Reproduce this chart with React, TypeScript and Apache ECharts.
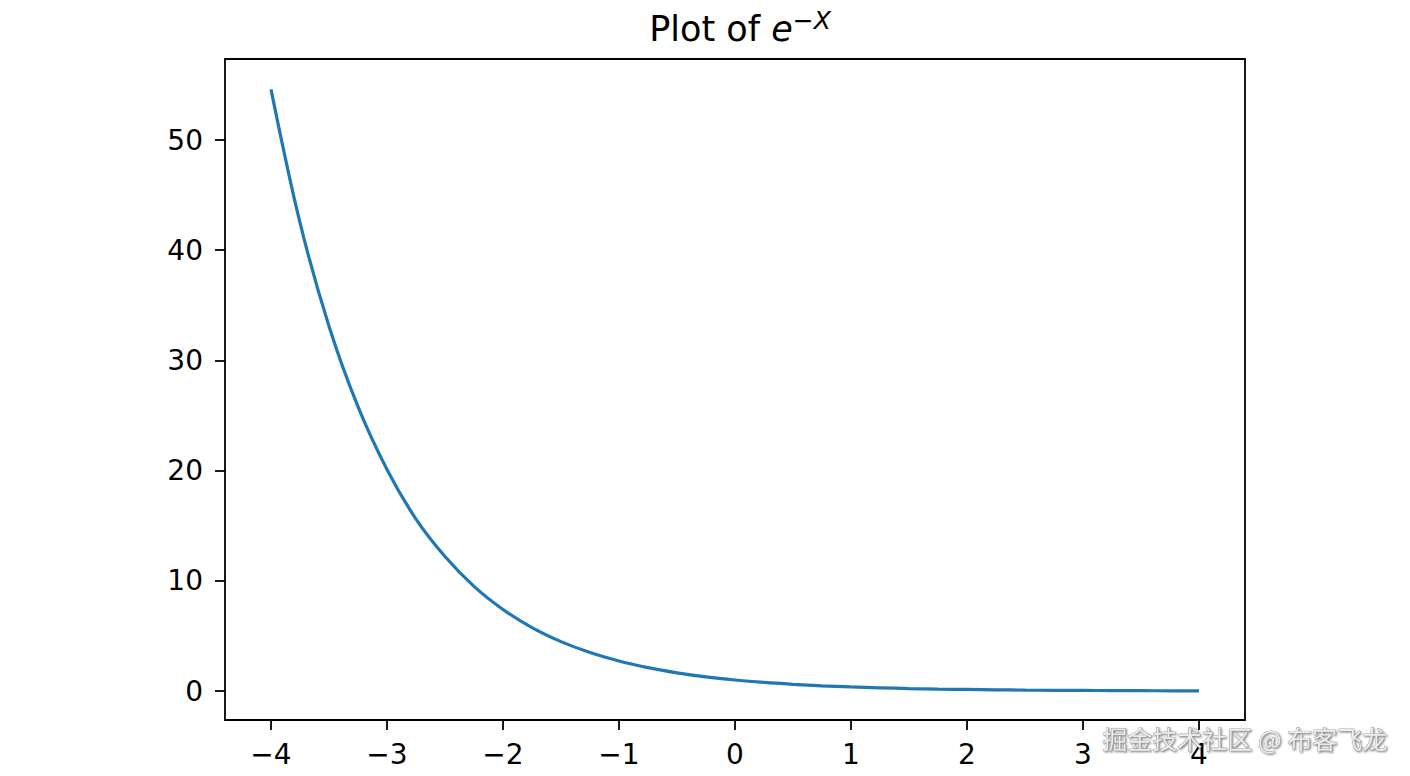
import React, { useEffect, useRef } from 'react';
import * as echarts from 'echarts';

// samples of the curve
const xValues = [
  -4, -3.75, -3.5, -3.25, -3, -2.75, -2.5, -2.25, -2, -1.75, -1.5, -1.25, -1, -0.75, -0.5, -0.25,
  0, 0.25, 0.5, 0.75, 1, 1.25, 1.5, 1.75, 2, 2.25, 2.5, 2.75, 3, 3.25, 3.5, 3.75, 4
];
const yValues = [
  54.6, 42.5, 33.1, 25.8, 20.1, 15.6, 12.2, 9.5, 7.4, 5.75, 4.48, 3.49, 2.72, 2.12, 1.65, 1.28,
  1.0, 0.78, 0.61, 0.47, 0.37, 0.29, 0.22, 0.17, 0.14, 0.11, 0.08, 0.06, 0.05, 0.04, 0.03, 0.02, 0.02
];
const xRange = [-4, 4];
const yRange = [0, 50];
const xStep = 1;
const yStep = 10;

const fmt = (v: number) => (v < 0 ? '\u2212' + Math.abs(v) : String(v));

export default function App() {
  const chartRef = useRef<HTMLDivElement>(null);

  useEffect(() => {
    if (!chartRef.current) return;
    const chart = echarts.init(chartRef.current, null, { renderer: 'svg' });

    const font = 'DejaVu Sans';
    const tick = { show: true, inside: false, length: 10, lineStyle: { color: '#000', width: 1.8 } };
    const option: any = {
      animation: false,
      backgroundColor: '#ffffff',
      title: {
        text: 'Plot of {e|e}{sup|\u2212X}',
        left: 735,
        textAlign: 'center',
        top: 3,
        textStyle: {
          fontFamily: font,
          fontSize: 35,
          fontWeight: 'normal',
          color: '#000',
          rich: {
            e: { fontFamily: font, fontSize: 35, fontStyle: 'italic', color: '#000' },
            sup: { fontFamily: font, fontSize: 25, fontStyle: 'italic', color: '#000', verticalAlign: 'top', padding: [0, 0, 16, 0] }
          }
        }
      },
      // grid spans the data range (x -4..4, y 0..50); axes are pushed out to the frame
      grid: {
        left: 271,
        top: 140,
        width: 928,
        height: 551,
        show: false
      },
      xAxis: {
        type: 'value',
        position: 'bottom',
        min: xRange[0],
        max: xRange[1],
        interval: xStep,
        offset: 29,
        splitLine: { show: false },
        axisLine: { show: false, onZero: false },
        axisTick: tick,
        axisLabel: {
          formatter: fmt,
          fontFamily: font,
          fontSize: 28,
          color: '#000',
          margin: 20
        }
      },
      yAxis: {
        type: 'value',
        position: 'left',
        min: yRange[0],
        max: yRange[1],
        interval: yStep,
        offset: 46,
        splitLine: { show: false },
        axisLine: { show: false, onZero: false },
        axisTick: tick,
        axisLabel: {
          formatter: fmt,
          fontFamily: font,
          fontSize: 28,
          color: '#000',
          margin: 22
        }
      },
      series: [
        {
          type: 'line',
          data: xValues.map((x, i) => [x, yValues[i]]),
          showSymbol: false,
          clip: false,
          smooth: 0.35,
          lineStyle: { color: '#1f77b4', width: 3.2 }
        }
      ],
      graphic: [
        {
          type: 'rect',
          shape: { x: 225, y: 59, width: 1020, height: 661 },
          silent: true,
          z: 50,
          style: { fill: 'none', stroke: '#000', lineWidth: 1.8 }
        },
        {
          type: 'text',
          left: 1102,
          top: 725,
          z: 100,
          style: {
            text: '掘金技术社区 @ 布客飞龙',
            fontFamily: 'Noto Sans CJK SC',
            fontSize: 25,
            fill: '#ececec',
            stroke: '#777',
            lineWidth: 0.6,
            textShadowColor: 'rgba(0,0,0,0.55)',
            textShadowBlur: 2,
            textShadowOffsetX: 1,
            textShadowOffsetY: 1
          }
        }
      ]
    };

    chart.setOption(option);
    return () => {
      chart.dispose();
    };
  }, []);

  return (
    <div
      ref={chartRef}
      style={{ position: 'fixed', left: 0, top: 0, width: 1410, height: 776 }}
    />
  );
}
